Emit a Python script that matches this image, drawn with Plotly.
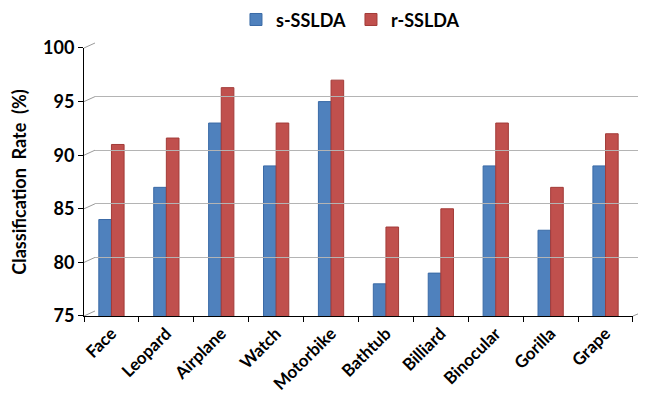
import plotly.graph_objects as go

categories = ["Face", "Leopard", "Airplane", "Watch", "Motorbike",
              "Bathtub", "Billiard", "Binocular", "Gorilla", "Grape"]
s_sslda = [84, 87, 93, 89, 95, 78, 79, 89, 83, 89]
r_sslda = [91, 91.6, 96.3, 93, 97, 83.3, 85, 93, 87, 92]
y_ticks = [75, 80, 85, 90, 95, 100]

FONT = "Lato"
Y_RANGE = [75, 100]

# 3D-look geometry (fractions of the plot area)
FRONT_X = [0.0, 0.9786]
BACK_X = [0.0196, 1.0]
FRONT_Y = [0.0, 0.9817]
BACK_Y = [0.0183, 1.0]

fig = go.Figure()
fig.add_trace(go.Bar(name="s-SSLDA", x=categories, y=s_sslda,
                     marker=dict(color="#4F81BD", line=dict(color="#3A6AA6", width=1))))
fig.add_trace(go.Bar(name="r-SSLDA", x=categories, y=r_sslda,
                     marker=dict(color="#C0504D", line=dict(color="#A23B38", width=1))))
# invisible helper trace for the back-wall gridlines
fig.add_trace(go.Scatter(x=[0, 1], y=Y_RANGE, xaxis="x2", yaxis="y2", mode="none",
                         showlegend=False, hoverinfo="skip"))

# diagonal connectors from the front axis to the back wall
shapes = []
for v in y_ticks:
    f = (v - Y_RANGE[0]) / (Y_RANGE[1] - Y_RANGE[0])
    shapes.append(dict(type="line", xref="paper", yref="paper",
                       x0=FRONT_X[0], y0=FRONT_Y[0] + f * (FRONT_Y[1] - FRONT_Y[0]),
                       x1=BACK_X[0], y1=BACK_Y[0] + f * (BACK_Y[1] - BACK_Y[0]),
                       line=dict(color="#9A9A9A", width=1), layer="below"))
shapes.append(dict(type="line", xref="paper", yref="paper",
                   x0=FRONT_X[1], y0=FRONT_Y[0], x1=BACK_X[1], y1=BACK_Y[0],
                   line=dict(color="#9A9A9A", width=1), layer="below"))

fig.update_layout(
    width=638, height=400,
    margin=dict(l=76, r=1, t=35, b=92, autoexpand=False),
    paper_bgcolor="white", plot_bgcolor="rgba(0,0,0,0)",
    barmode="group", bargap=0.54, bargroupgap=0.0,
    font=dict(family=FONT, size=16, color="black"),
    legend=dict(orientation="h", x=0.475, xanchor="center", y=1.085, yanchor="middle",
                font=dict(family=FONT, size=18, color="black", weight="bold"),
                itemwidth=30, traceorder="normal"),
    shapes=shapes,
    xaxis=dict(domain=FRONT_X, tickangle=-45,
               tickfont=dict(family=FONT, size=17, weight="bold"),
               showline=True, linecolor="black", linewidth=1, automargin=False,
               ticks="outside", tickson="boundaries", ticklen=5, tickcolor="black",
               showgrid=False, anchor="y"),
    yaxis=dict(domain=FRONT_Y, range=Y_RANGE, tickvals=y_ticks, automargin=False,
               tickfont=dict(family=FONT, size=18, weight="bold"),
               showline=True, linecolor="black", linewidth=1,
               ticks="outside", ticklen=5, tickcolor="black",
               showgrid=False, zeroline=False, anchor="x",
               title=dict(text="Classification  Rate  (%)",
                          font=dict(family=FONT, size=18, weight="bold"), standoff=14)),
    xaxis2=dict(domain=BACK_X, range=[0, 1], anchor="y2", showgrid=False,
                showticklabels=False, showline=False, zeroline=False, ticks=""),
    yaxis2=dict(domain=BACK_Y, range=Y_RANGE, tickvals=y_ticks, anchor="x2",
                showticklabels=False, showline=False, zeroline=False, ticks="",
                showgrid=True, gridcolor="#B4B4B4", gridwidth=1),
)

fig.write_html("out.html")
